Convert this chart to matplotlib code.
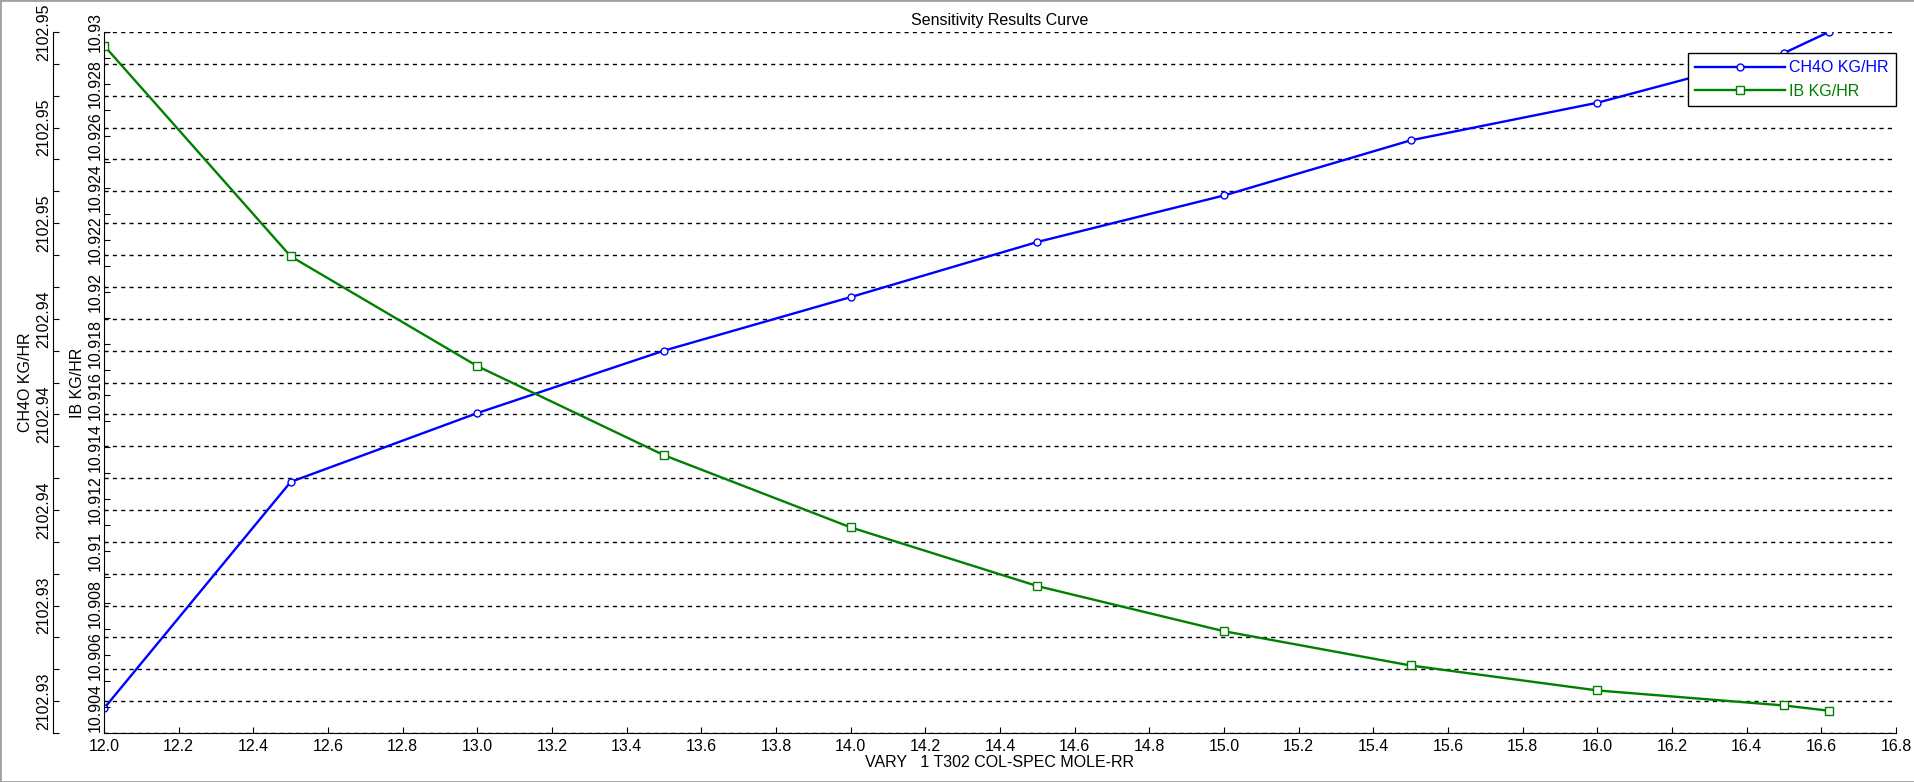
import matplotlib.pyplot as plt
from matplotlib.patches import Rectangle
import numpy as np

plt.rcParams['font.family'] = ['Liberation Sans', 'DejaVu Sans']
plt.rcParams['font.size'] = 11.5

# sensitivity data
rr = [12.0, 12.5, 13.0, 13.5, 14.0, 14.5, 15.0, 15.5, 16.0, 16.5, 16.62]
ch4o = [2102.92977, 2102.93688, 2102.93904, 2102.94100, 2102.94268, 2102.94441,
        2102.94587, 2102.94760, 2102.94878, 2102.95034, 2102.95100]
ib = [10.92948, 10.92136, 10.91713, 10.91370, 10.91092, 10.90866,
      10.90692, 10.90560, 10.90464, 10.90406, 10.90386]

# axis labels as shown by the program (rounded, so they repeat)
ch4o_labels = ['2102.93', '2102.93', '2102.94', '2102.94', '2102.94',
               '2102.95', '2102.95', '2102.95']
ib_labels = ['10.904', '10.906', '10.908', '10.91', '10.912', '10.914', '10.916',
             '10.918', '10.92', '10.922', '10.924', '10.926', '10.928', '10.93']

blue = '#0000ff'
green = '#008000'

fig = plt.figure(figsize=(19.15, 7.82), dpi=100)
W, H = 1915.0, 782.0
pos = [104 / W, (H - 733) / H, 1792 / W, 701 / H]

ax2 = fig.add_axes(pos)          # CH4O axis, outer, carries the grid
ax = fig.add_axes(pos, sharex=ax2)  # IB axis, inner
ax.set_zorder(ax2.get_zorder() + 1)
ax.patch.set_visible(False)

# CH4O
ax2.plot(rr, ch4o, color=blue, lw=1.7, marker='o', ms=5, mfc='white',
         mec=blue, mew=1.0, label='CH4O KG/HR')
ax2.set_ylim(2102.929, 2102.951)
ch_ticks = np.round(2102.929 + 0.001 * np.arange(23), 4)
ax2.set_yticks(ch_ticks)
lab = [''] * 23
for i, s in enumerate(ch4o_labels):
    lab[1 + 3 * i] = s
ax2.set_yticklabels(lab)
ax2.spines['left'].set_position(('outward', 36.7))
for s in ['top', 'right', 'bottom']:
    ax2.spines[s].set_visible(False)
ax2.grid(True, axis='y', color='black', lw=1.0, linestyle=(0, (3, 3)))
ax2.tick_params(axis='y', direction='in', length=4, pad=1, labelrotation=90)
ax2.tick_params(axis='x', bottom=False, labelbottom=False)
ax2.set_ylabel('CH4O KG/HR')
ax2.yaxis.set_label_coords(-0.0395, 0.5)

# IB
ax.plot(rr, ib, color=green, lw=1.7, marker='s', ms=6, mfc='white',
        mec=green, mew=1.0, label='IB KG/HR')
ax.set_ylim(10.903, 10.93)
ib_ticks = np.round(10.903 + 0.001 * np.arange(28), 4)
ax.set_yticks(ib_ticks)
lab = [''] * 28
for i, s in enumerate(ib_labels):
    lab[1 + 2 * i] = s
ax.set_yticklabels(lab)
for s in ['top', 'right']:
    ax.spines[s].set_visible(False)
ax.tick_params(axis='y', direction='in', length=4, pad=1, labelrotation=90)
ax.set_ylabel('IB KG/HR')
ax.yaxis.set_label_coords(-0.0105, 0.5)

ax.set_xlim(12.0, 16.8)
ax.set_xticks(np.round(np.arange(12.0, 16.81, 0.2), 1))
ax.set_xticklabels(['%.1f' % v for v in np.arange(12.0, 16.81, 0.2)])
ax.tick_params(axis='x', direction='in', length=4, pad=4)
ax.set_xlabel('VARY   1 T302 COL-SPEC MOLE-RR', labelpad=1)

for a in (ax, ax2):
    for t in a.get_yticklabels():
        t.set_verticalalignment('center')

ax.set_title('Sensitivity Results Curve', pad=5, fontsize=11.5)

h1, l1 = ax2.get_legend_handles_labels()
h2, l2 = ax.get_legend_handles_labels()
leg = ax.legend(h1 + h2, l1 + l2, loc='upper right', bbox_to_anchor=(1.0, 0.97),
                borderaxespad=0, fancybox=False, framealpha=1, edgecolor='black',
                handlelength=5.6, handletextpad=0.3, labelspacing=0.55,
                borderpad=0.45)
leg.get_frame().set_linewidth(1.0)
for txt, c in zip(leg.get_texts(), [blue, green]):
    txt.set_color(c)

fig.patches.append(Rectangle((0, 0), 1, 1, transform=fig.transFigure,
                             fill=False, edgecolor='#a0a0a0', lw=2))

fig.savefig('out.png', dpi=100)
